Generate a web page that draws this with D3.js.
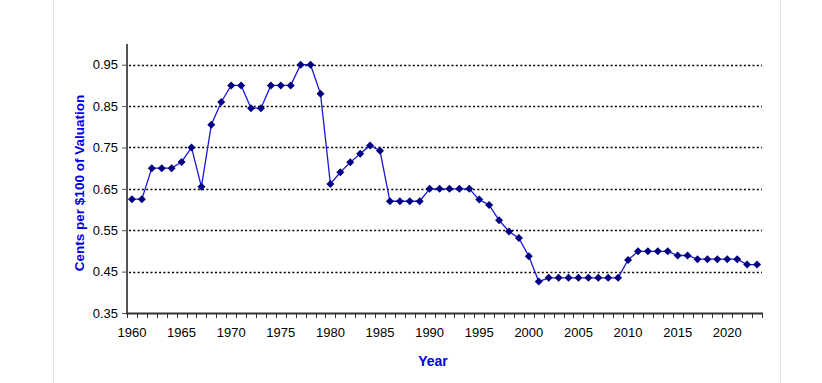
<!DOCTYPE html>
<html><head><meta charset="utf-8">
<script src="https://cdn.jsdelivr.net/npm/d3@7"></script>
<style>body{margin:0;background:#fff}svg{display:block}text{font-family:"Liberation Sans",Arial,sans-serif}</style>
</head><body><svg id="c" width="822" height="383"></svg>
<script>
const years = d3.range(1960, 2024);
const rates = [0.625,0.625,0.70,0.70,0.70,0.715,0.75,0.655,0.805,0.86,
  0.90,0.90,0.845,0.845,0.90,0.90,0.90,0.95,0.95,0.88,
  0.662,0.69,0.714,0.735,0.755,0.742,0.62,0.62,0.62,0.62,
  0.65,0.65,0.65,0.65,0.65,0.624,0.611,0.574,0.547,0.531,
  0.487,0.426,0.435,0.435,0.435,0.435,0.435,0.435,0.435,0.435,
  0.478,0.499,0.499,0.499,0.499,0.489,0.489,0.48,0.48,0.48,
  0.48,0.48,0.467,0.467];
const yTicks = [0.35,0.45,0.55,0.65,0.75,0.85,0.95];
const xLabelYears = [1960,1965,1970,1975,1980,1985,1990,1995,2000,2005,2010,2015,2020];
const yTitle = "Cents per $100 of Valuation";
const xTitle = "Year";

const svg = d3.select("#c");
const mLeft = 127, mRight = 762, mTop = 44, mBottom = 313;
const x = d3.scaleBand().domain(years).range([mLeft, mRight]);
const y = d3.scaleLinear().domain([0.35, 1.0]).range([mBottom, mTop]);

// frame lines
svg.append("line").attr("x1",53.5).attr("x2",53.5).attr("y1",0).attr("y2",383).attr("stroke","#e4e4e4");
svg.append("line").attr("x1",780.5).attr("x2",780.5).attr("y1",0).attr("y2",383).attr("stroke","#e4e4e4");

// grid
svg.append("g").selectAll("line").data(yTicks.slice(1)).join("line")
  .attr("x1",mLeft+2).attr("x2",mRight)
  .attr("y1",d=>Math.round(y(d))+0.5).attr("y2",d=>Math.round(y(d))+0.5)
  .attr("stroke","#000").attr("stroke-width",1.4).attr("stroke-dasharray","2,2.3");

// y axis
const ya = svg.append("g").attr("transform",`translate(${mLeft},0)`)
  .call(d3.axisLeft(y).tickValues(yTicks).tickFormat(d3.format(".2f")).tickSize(5).tickPadding(4));
ya.select(".domain").remove();
ya.selectAll("line").attr("stroke","#555");
ya.selectAll("text").attr("font-size",13).attr("fill","#000");
svg.append("line").attr("x1",mLeft).attr("x2",mLeft).attr("y1",mTop).attr("y2",mBottom+1).attr("stroke","#555").attr("stroke-width",2);

// x axis
const tickPos = years.map(d=>x(d)).concat([mRight]);
svg.append("g").selectAll("line").data(tickPos).join("line")
  .attr("x1",d=>Math.round(d)+0.5).attr("x2",d=>Math.round(d)+0.5).attr("y1",mBottom).attr("y2",mBottom+5)
  .attr("stroke","#333");
svg.append("line").attr("x1",mLeft-1).attr("x2",mRight+1).attr("y1",mBottom+0.5).attr("y2",mBottom+0.5).attr("stroke","#333").attr("stroke-width",2);
svg.append("g").selectAll("text").data(xLabelYears).join("text")
  .attr("x",d=>x(d)+x.bandwidth()/2).attr("y",mBottom+24).attr("text-anchor","middle")
  .attr("font-size",13).attr("fill","#000").text(d=>d);

// titles
svg.append("text").attr("transform",`translate(84,183) rotate(-90)`)
  .attr("text-anchor","middle").attr("font-size",13.5).attr("font-weight","bold").attr("fill","#0000e0").text(yTitle);
svg.append("text").attr("x",433).attr("y",366).attr("text-anchor","middle")
  .attr("font-size",14).attr("font-weight","bold").attr("fill","#0000e0").text(xTitle);

// line
const data = years.map((yr,i)=>({yr, v:rates[i]}));
svg.append("path").datum(data)
  .attr("d", d3.line().x(d=>x(d.yr)+x.bandwidth()/2).y(d=>y(d.v)))
  .attr("fill","none").attr("stroke","#1a1ad6").attr("stroke-width",1.3);
svg.append("g").selectAll("path").data(data).join("path")
  .attr("transform",d=>`translate(${x(d.yr)+x.bandwidth()/2},${y(d.v)})`)
  .attr("d","M0,-4L4,0L0,4L-4,0Z").attr("fill","#000080");
</script></body></html>
